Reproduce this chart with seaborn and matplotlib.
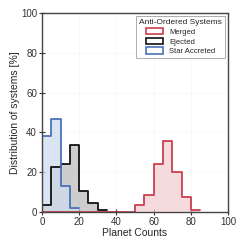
import numpy as np
import pandas as pd
import matplotlib
matplotlib.use("Agg")
import matplotlib.pyplot as plt
import seaborn as sns
from matplotlib.patches import Patch

# ---- data: percentage of systems per 5-count bin (bins start at 0) ----
bin_width = 5
merged_pct = [0, 0, 0, 0, 0, 0, 0, 0, 0, 0, 3.5, 8.5, 24, 35.5, 20, 7.5, 1]
ejected_pct = [3.5, 22.5, 24, 33.5, 10.5, 4.5, 1]
accreted_pct = [38, 46.5, 13, 2]

labels = ["Star Accreted", "Ejected", "Merged"]
values = [accreted_pct, ejected_pct, merged_pct]
edge_colors = ["#4a72b8", "#111111", "#c9404d"]
face_colors = ["#cfdcee", "#bdbdbd", "#f2cfd2"]

sns.set_style("white")
plt.rcParams['font.family'] = ['Liberation Sans', 'DejaVu Sans']

fig = plt.figure(figsize=(2.45, 2.45), dpi=100)
ax = fig.add_axes([0.171, 0.135, 0.76, 0.812])

# fills: ejected under accreted, merged anywhere
for i in [2, 1, 0]:
    pct = values[i]
    n = len(pct)
    centers = np.arange(n) * bin_width + bin_width / 2
    df = pd.DataFrame({"count": centers, "pct": pct})
    sns.histplot(data=df, x="count", weights="pct", bins=n, binrange=(0, n * bin_width),
                 element="step", fill=True, color=face_colors[i], alpha=0.75,
                 linewidth=0, ax=ax)
# outlines
for i in [1, 0, 2]:
    pct = values[i]
    n = len(pct)
    centers = np.arange(n) * bin_width + bin_width / 2
    df = pd.DataFrame({"count": centers, "pct": pct})
    sns.histplot(data=df, x="count", weights="pct", bins=n, binrange=(0, n * bin_width),
                 element="step", fill=False, color=edge_colors[i], linewidth=1.3, ax=ax)

ax.set_xlim(0, 100)
ax.set_ylim(0, 100)
ax.set_xticks([0, 20, 40, 60, 80, 100])
ax.set_yticks([0, 20, 40, 60, 80, 100])
ax.grid(True, color="#f6f6f6", linewidth=0.5)
ax.set_axisbelow(True)
ax.tick_params(direction="inout", length=4, width=0.8, labelsize=7,
               colors="#333333", pad=1.5, bottom=True, left=True)
for sp in ax.spines.values():
    sp.set_color("#444444")
    sp.set_linewidth(1)
ax.set_xlabel("Planet Counts", fontsize=7.5, labelpad=1)
ax.set_ylabel("Distribution of systems [%]", fontsize=7.5, labelpad=1)

order = [2, 1, 0]
handles = [Patch(facecolor="white", edgecolor=edge_colors[i], linewidth=1.2, label=labels[i])
           for i in order]
leg = ax.legend(handles=handles, title="Anti-Ordered Systems", loc="upper right",
                fontsize=5.5, title_fontsize=6, frameon=True, fancybox=False,
                handlelength=2.2, handleheight=0.9, labelspacing=0.25,
                borderpad=0.4, borderaxespad=0.4)
leg.get_frame().set_edgecolor("#888888")
leg.get_frame().set_linewidth(0.6)

fig.savefig("out.png", dpi=100)
